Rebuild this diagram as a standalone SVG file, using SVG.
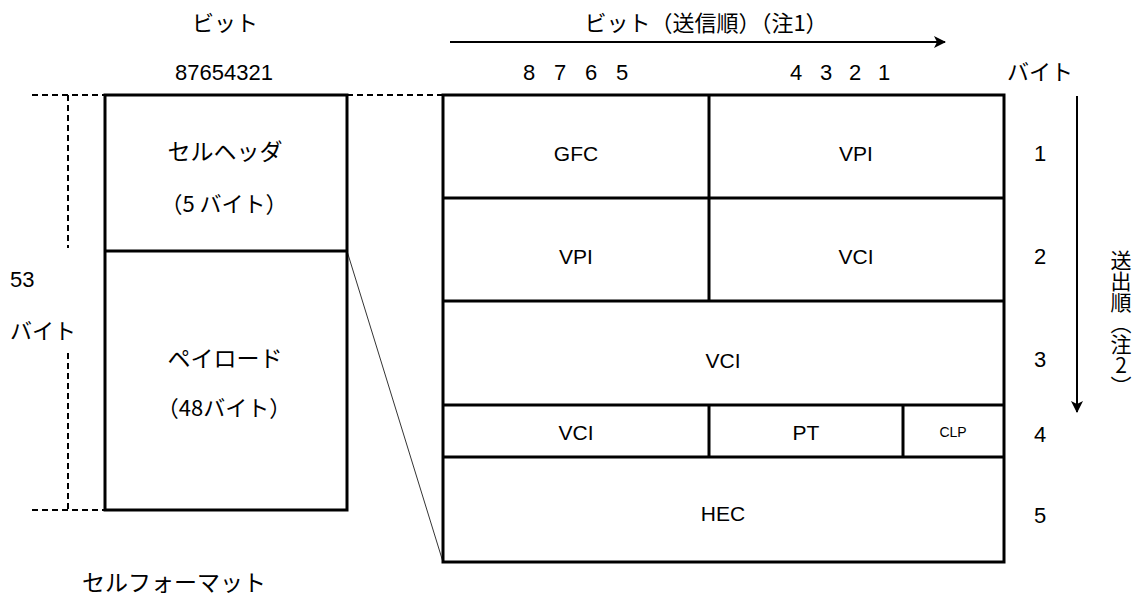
<svg xmlns="http://www.w3.org/2000/svg" width="1145" height="605" viewBox="0 0 1145 605">
<defs>
<marker id="ah" markerWidth="12" markerHeight="12" refX="11" refY="6" orient="auto" markerUnits="userSpaceOnUse">
<path d="M0,0 L12,6 L0,12 L3,6 z" fill="#000"/>
</marker>
<style>
.box{fill:#fff;stroke:#000;stroke-width:3}
.ln{stroke:#000;stroke-width:3;fill:none}
.dash{stroke:#000;stroke-width:2;stroke-dasharray:6,4;fill:none}
.jp{font-family:"Noto Sans CJK JP","Liberation Sans",sans-serif;font-size:22px;fill:#000}
.lt{font-family:"Liberation Sans","Noto Sans CJK JP",sans-serif;font-size:21px;fill:#000}
.dg{font-family:"Liberation Sans",sans-serif;font-size:22px;fill:#000}
.sm{font-family:"Liberation Sans",sans-serif;font-size:14px;fill:#000}
.vt{font-family:"Noto Sans CJK JP",sans-serif;font-size:21px;fill:#000;writing-mode:vertical-rl;text-orientation:upright}
.c{text-anchor:middle}
</style>
</defs>
<rect width="1145" height="605" fill="#fff"/>
<g id="connectors">
<path class="dash" d="M32,95 H105 M347,95 H443 M32,510 H105 M68,95 V248 M68,353 V510"/>
<line x1="347" y1="251" x2="443" y2="562" stroke="#000" stroke-width="0.8"/>
<line x1="450" y1="42" x2="945" y2="42" stroke="#000" stroke-width="2" marker-end="url(#ah)"/>
<line x1="1077" y1="96" x2="1077" y2="412" stroke="#000" stroke-width="2" marker-end="url(#ah)"/>
</g>
<g id="cell">
<rect class="box" x="105" y="95" width="242" height="415"/>
<line class="ln" x1="105" y1="251" x2="347" y2="251"/>
<text class="jp c" x="225" y="160" style="font-size:23px">セルヘッダ</text>
<text class="jp c" x="224" y="212">（5 バイト）</text>
<text class="jp c" x="225" y="367" style="font-size:23px">ペイロード</text>
<text class="jp c" x="224" y="416">（48バイト）</text>
</g>
<g id="header-table">
<rect class="box" x="443" y="95" width="561" height="467"/>
<path class="ln" d="M443,198 H1004 M443,301 H1004 M443,405 H1004 M443,457 H1004 M709,95 V301 M709,405 V457 M903,405 V457"/>
<text class="lt c" x="576" y="161">GFC</text>
<text class="lt c" x="856" y="161">VPI</text>
<text class="lt c" x="576" y="264">VPI</text>
<text class="lt c" x="856" y="264">VCI</text>
<text class="lt c" x="723" y="368">VCI</text>
<text class="lt c" x="576" y="440">VCI</text>
<text class="lt c" x="806" y="440">PT</text>
<text class="sm c" x="953" y="437">CLP</text>
<text class="lt c" x="723" y="521">HEC</text>
</g>
<g id="labels">
<text class="jp c" x="225" y="31">ビット</text>
<text class="dg c" x="224" y="80">87654321</text>
<text class="jp c" x="706" y="31">ビット（送信順）（注1）</text>
<text class="dg c" x="529" y="80">8</text>
<text class="dg c" x="560" y="80">7</text>
<text class="dg c" x="591" y="80">6</text>
<text class="dg c" x="622" y="80">5</text>
<text class="dg c" x="796" y="80">4</text>
<text class="dg c" x="826" y="80">3</text>
<text class="dg c" x="855" y="80">2</text>
<text class="dg c" x="884" y="80">1</text>
<text class="jp c" x="1040" y="80">バイト</text>
<text class="dg c" x="1040" y="161">1</text>
<text class="dg c" x="1040" y="264">2</text>
<text class="dg c" x="1040" y="367">3</text>
<text class="dg c" x="1040" y="442">4</text>
<text class="dg c" x="1040" y="523">5</text>
<text class="dg" x="10" y="287">53</text>
<text class="jp" x="10" y="339">バイト</text>
<text class="jp" x="82" y="591" style="font-size:23px">セルフォーマット</text>
<text class="vt" x="1121" y="250">送出順（注2）</text>
</g>
</svg>
